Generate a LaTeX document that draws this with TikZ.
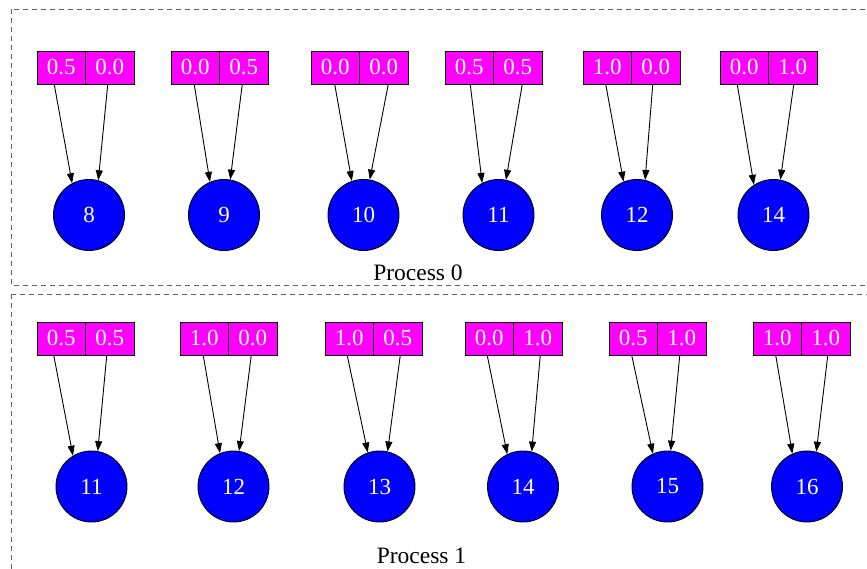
\documentclass[tikz,border=0pt]{standalone}
\usepackage{fontspec}
\setmainfont{Liberation Serif}
\usetikzlibrary{arrows.meta}
\definecolor{cellmag}{HTML}{FF00FF}
\definecolor{nodeblue}{HTML}{0000FF}
\definecolor{clgray}{HTML}{606060}
\tikzset{
  cell/.style={draw=black, line width=0.9pt, fill=cellmag, text=white, minimum width=48.5pt, minimum height=33pt, inner sep=0pt, font=\fontsize{23}{27}\selectfont},
  vert/.style={circle, draw=black, line width=0.9pt, fill=nodeblue, text=white, minimum size=71pt, inner sep=0pt, font=\fontsize{23}{27}\selectfont},
  arr/.style={line width=0.9pt, -{Triangle[length=10pt,width=7pt]}},
  cluster/.style={draw=clgray, line width=1pt, dash pattern=on 5pt off 4pt},
  lbl/.style={font=\fontsize{23.5}{27}\selectfont, anchor=base, inner sep=0pt}
}
\begin{document}
\begin{tikzpicture}[x=1pt,y=-1pt]
\useasboundingbox (0,0) rectangle (867,568);
\clip (0,0) rectangle (867,568);
\fill[white] (0,0) rectangle (867,568);
\draw[cluster] (11,9) rectangle (900,285);
\draw[cluster] (11,294) rectangle (900,600);
\node[lbl] (p0) at (418,280.5) {Process 0};
\node[lbl] (p1) at (421.5,563.5) {Process 1};
% top row
\foreach \i/\x/\va/\vb/\n/\cx/\sl/\sr/\angl/\angr in {
  1/37/0.5/0.0/8/89/-7/-2/118/75,
  2/171/0.0/0.5/9/224/-1/-1.5/113/80,
  3/311/0.0/0.0/10/363.5/-0.5/4.5/109/80,
  4/445/0.5/0.5/11/498.5/1/4.5/117/78,
  5/583/1.0/0.0/12/637/-1.5/-3/112/77,
  6/720/0.0/1.0/14/773.5/-7/1/123/79}{
  \node[cell] (ta\i) at (\x+24.25,67.5) {\va};
  \node[cell] (tb\i) at (\x+72.75,67.5) {\vb};
  \node[vert] (tc\i) at (\cx,215) {\n};
  \draw[arr] ([xshift=\sl pt]ta\i.south) -- (tc\i.\angl);
  \draw[arr] ([xshift=\sr pt]tb\i.south) -- (tc\i.\angr);
}
% bottom row
\foreach \i/\x/\va/\vb/\n/\cx/\sl/\sr/\angl/\angr in {
  1/37/0.5/0.5/11/91.5/-7.5/-3/121/80,
  2/180/1.0/0.0/12/233.5/-1/-1.5/112.5/81,
  3/325/1.0/0.5/13/379.5/-2/2.5/109/77,
  4/465/0.0/1.0/14/523/-2/2.5/116/76,
  5/609/0.5/1.0/15/667.5/-1.5/-2/114/85,
  6/753/1.0/1.0/16/807/-1.5/2/114/75}{
  \node[cell] (ba\i) at (\x+24.25,338.5) {\va};
  \node[cell] (bb\i) at (\x+72.75,338.5) {\vb};
  \node[vert] (bc\i) at (\cx,486.5) {\n};
  \draw[arr] ([xshift=\sl pt]ba\i.south) -- (bc\i.\angl);
  \draw[arr] ([xshift=\sr pt]bb\i.south) -- (bc\i.\angr);
}
\end{tikzpicture}
\end{document}
